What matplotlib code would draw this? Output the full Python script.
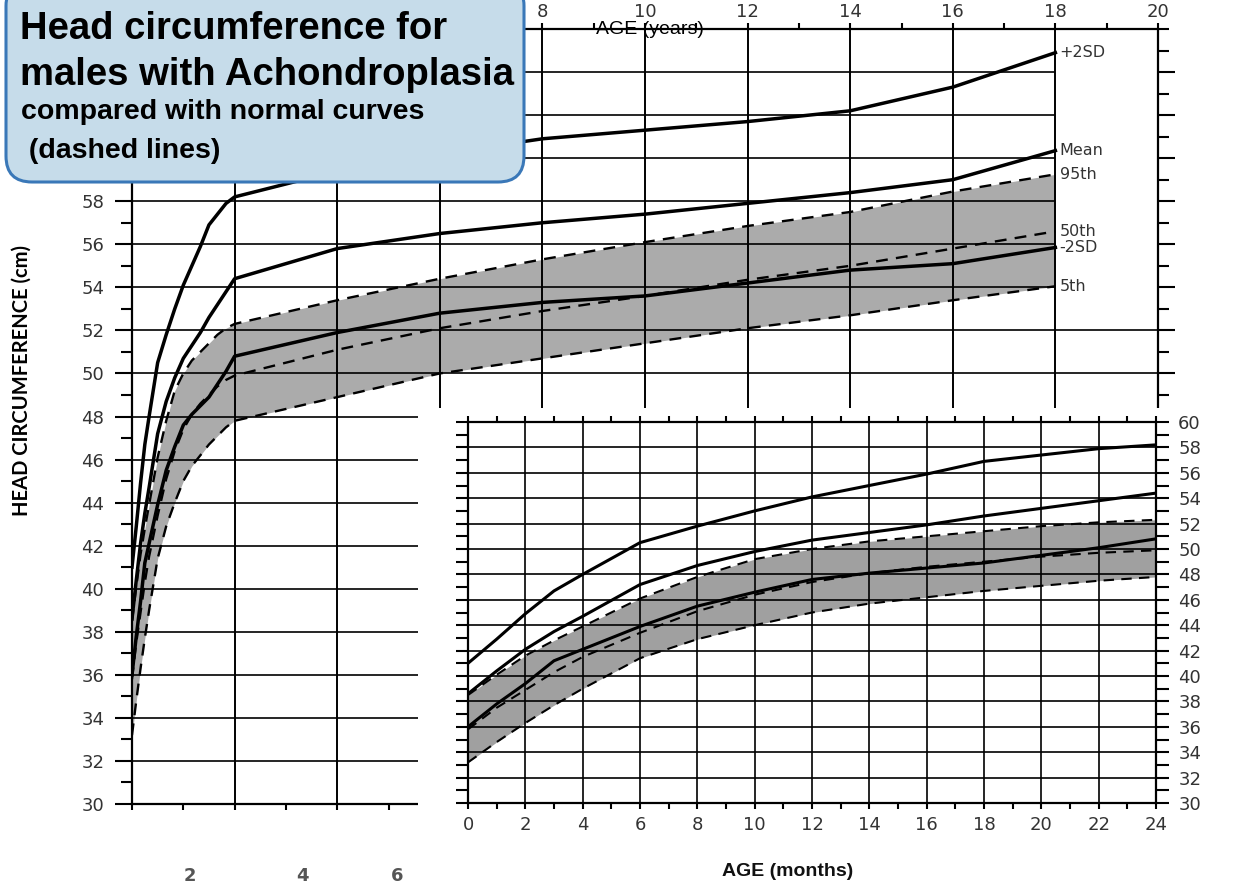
import numpy as np
import matplotlib
matplotlib.use('Agg')
import matplotlib.pyplot as plt
from matplotlib.patches import FancyBboxPatch, Rectangle
from matplotlib.ticker import MultipleLocator

W, H = 1233, 884

# infant part (months)
months = [0, 1, 2, 3, 4, 6, 8, 10, 12, 14, 16, 18, 20, 22, 24]
plus2sd_m = [41.0, 42.9, 44.9, 46.7, 48.0, 50.5, 51.8, 53.0, 54.1, 55.0, 55.9, 56.9, 57.4, 57.9, 58.2]
mean_m = [38.6, 40.4, 42.1, 43.5, 44.7, 47.2, 48.7, 49.8, 50.7, 51.3, 51.9, 52.6, 53.2, 53.8, 54.4]
minus2sd_m = [36.0, 37.8, 39.4, 41.2, 42.1, 43.9, 45.5, 46.6, 47.6, 48.1, 48.5, 48.9, 49.5, 50.1, 50.8]
p95_m = [38.5, 40.1, 41.6, 42.8, 43.9, 46.1, 47.8, 49.2, 50.0, 50.6, 51.0, 51.4, 51.8, 52.1, 52.3]
p50_m = [35.8, 37.5, 38.9, 40.3, 41.5, 43.4, 45.1, 46.4, 47.4, 48.1, 48.6, 49.0, 49.4, 49.7, 49.9]
p5_m = [33.2, 34.8, 36.3, 37.7, 39.0, 41.4, 42.9, 44.0, 45.0, 45.7, 46.2, 46.7, 47.1, 47.5, 47.8]

# childhood part (years)
years = [2, 4, 6, 8, 10, 12, 14, 16, 18]
plus2sd_y = [58.2, 59.4, 60.2, 60.9, 61.3, 61.7, 62.2, 63.3, 64.9]
mean_y = [54.4, 55.8, 56.5, 57.0, 57.4, 57.9, 58.4, 59.0, 60.35]
minus2sd_y = [50.8, 51.9, 52.8, 53.3, 53.6, 54.2, 54.8, 55.1, 55.85]
p95_y = [52.3, 53.4, 54.4, 55.3, 56.1, 56.85, 57.5, 58.45, 59.25]
p50_y = [49.9, 51.1, 52.1, 52.9, 53.6, 54.35, 55.0, 55.8, 56.6]
p5_y = [47.8, 48.9, 50.0, 50.7, 51.4, 52.1, 52.7, 53.4, 54.05]

curve_names = ['+2SD', 'Mean', '95th', '50th', '-2SD', '5th']

# tick values of the main chart (labels under the title box are not shown)
cm_ticks = list(range(30, 66, 2))
cm_labels = [str(v) if v <= 58 else '' for v in cm_ticks]
year_ticks = list(range(0, 22, 2))
year_labels = [str(v) if v >= 8 else '' for v in year_ticks]

TICK_COLOR = '#333333'


def join(m_vals, y_vals):
    x = [m / 12 for m in months] + years[1:]
    return x, m_vals + y_vals[1:]


def main():
    fig = plt.figure(figsize=(W / 100, H / 100), dpi=100)

    # ---- main chart (years) ----
    ax = fig.add_axes([132 / W, 1 - 804 / H, (1158 - 132) / W, (804 - 29) / H])
    ax.set_zorder(0)
    ax.set_xlim(0, 20)
    ax.set_ylim(30, 66)

    for v in range(32, 66, 2):
        ax.hlines(v, 0, 20 if v <= 52 else 18, color='black', lw=1.2)
    for v in range(2, 20, 2):
        ax.vlines(v, 30, 66, color='black', lw=1.4)

    x, lo = join(p5_m, p5_y)
    _, hi = join(p95_m, p95_y)
    ax.fill_between(x, lo, hi, color='#ababab', lw=0)

    for m_vals, y_vals in [(plus2sd_m, plus2sd_y), (mean_m, mean_y), (minus2sd_m, minus2sd_y)]:
        xx, yy = join(m_vals, y_vals)
        ax.plot(xx, yy, color='black', lw=2.5, solid_joinstyle='round')
    for m_vals, y_vals in [(p95_m, p95_y), (p50_m, p50_y), (p5_m, p5_y)]:
        xx, yy = join(m_vals, y_vals)
        ax.plot(xx, yy, color='black', lw=1.7, dashes=(5, 3.5))

    ends = [plus2sd_y[-1], mean_y[-1], p95_y[-1], p50_y[-1], minus2sd_y[-1], p5_y[-1]]
    for name, v in zip(curve_names, ends):
        ax.text(18.08, v, name, ha='left', va='center', fontsize=11.5, color=TICK_COLOR)

    for s in ax.spines.values():
        s.set_linewidth(1.6)
    ax.set_yticks(cm_ticks)
    ax.set_yticklabels(cm_labels)
    ax.yaxis.set_minor_locator(MultipleLocator(1))
    ax.set_xticks(year_ticks)
    ax.set_xticklabels(year_labels)
    ax.xaxis.set_minor_locator(MultipleLocator(1))
    ax.tick_params(axis='y', which='major', length=12, width=1.5, left=True, right=True,
                   labelsize=13, labelcolor=TICK_COLOR, pad=8)
    ax.tick_params(axis='y', which='minor', length=8, width=1.5, left=True, right=True)
    ax.tick_params(axis='x', which='both', length=4, width=1.5, top=True, bottom=True,
                   labeltop=True, labelbottom=False, labelsize=13,
                   labelcolor=TICK_COLOR, pad=1.5)

    # white area behind the inset
    fig.add_artist(Rectangle((418 / W, 0), 1 - 418 / W, 1 - 408 / H,
                             transform=fig.transFigure, facecolor='white',
                             edgecolor='none', zorder=1))

    # ---- inset (months) ----
    ax2 = fig.add_axes([468 / W, 1 - 803 / H, (1156 - 468) / W, (803 - 422) / H])
    ax2.set_zorder(2)
    ax2.set_xlim(0, 24)
    ax2.set_ylim(30, 60)
    ax2.fill_between(months, p5_m, p95_m, color='#a0a0a0', lw=0)
    for vals in [plus2sd_m, mean_m, minus2sd_m]:
        ax2.plot(months, vals, color='black', lw=2.2, solid_joinstyle='round')
    for vals in [p95_m, p50_m, p5_m]:
        ax2.plot(months, vals, color='black', lw=1.5, dashes=(5, 3.5))

    ax2.xaxis.set_major_locator(MultipleLocator(2))
    ax2.xaxis.set_minor_locator(MultipleLocator(1))
    ax2.yaxis.set_major_locator(MultipleLocator(2))
    ax2.yaxis.set_minor_locator(MultipleLocator(1))
    ax2.grid(True, which='major', color='black', lw=1.2)
    for s in ax2.spines.values():
        s.set_linewidth(1.6)
    ax2.tick_params(axis='y', which='both', length=9, width=1.5, left=True, right=True,
                    labelleft=False, labelright=True, labelsize=13,
                    labelcolor=TICK_COLOR, pad=7)
    ax2.tick_params(axis='x', which='both', length=4, width=1.5, top=True, bottom=True,
                    labelsize=13, labelcolor=TICK_COLOR, pad=5)

    # ---- annotations on top ----
    ov = fig.add_axes([0, 0, 1, 1])
    ov.set_zorder(5)
    ov.set_xlim(0, W)
    ov.set_ylim(H, 0)
    ov.axis('off')

    box = FancyBboxPatch((6, -20), 518, 202, boxstyle='round,pad=0,rounding_size=26',
                         facecolor='#c6dcea', edgecolor='#3a78b8', lw=2.2)
    ov.add_patch(box)
    title_font = ['Liberation Sans Narrow', 'Liberation Sans', 'DejaVu Sans']
    ov.text(20, 39, 'Head circumference for', fontsize=27.5, fontweight='bold',
            family=title_font, va='baseline')
    ov.text(20, 85, 'males with Achondroplasia', fontsize=27.5, fontweight='bold',
            family=title_font, va='baseline')
    ov.text(21, 119, 'compared with normal curves', fontsize=20.5, fontweight='bold',
            family=['Liberation Sans', 'DejaVu Sans'], va='baseline')
    ov.text(21, 158, ' (dashed lines)', fontsize=20.5, fontweight='bold',
            family=['Liberation Sans', 'DejaVu Sans'], va='baseline')

    ov.text(22, 380, 'HEAD CIRCUMFERENCE (cm)', rotation=90, ha='center', va='center',
            fontsize=14.5, fontweight='bold', family=['Lato', 'DejaVu Sans'])
    ov.text(650, 30, 'AGE (years)', ha='center', va='center', fontsize=14,
            family=title_font)
    ov.text(788, 872, 'AGE (months)', ha='center', va='center', fontsize=14,
            fontweight='bold', family=title_font, color='#111111')
    for lab, xp in [('2', 190), ('4', 302), ('6', 397)]:
        ov.text(xp, 876, lab, ha='center', va='center', fontsize=13,
                fontweight='bold', color='#555555')

    fig.savefig('out.png', dpi=100)


if __name__ == '__main__':
    main()
